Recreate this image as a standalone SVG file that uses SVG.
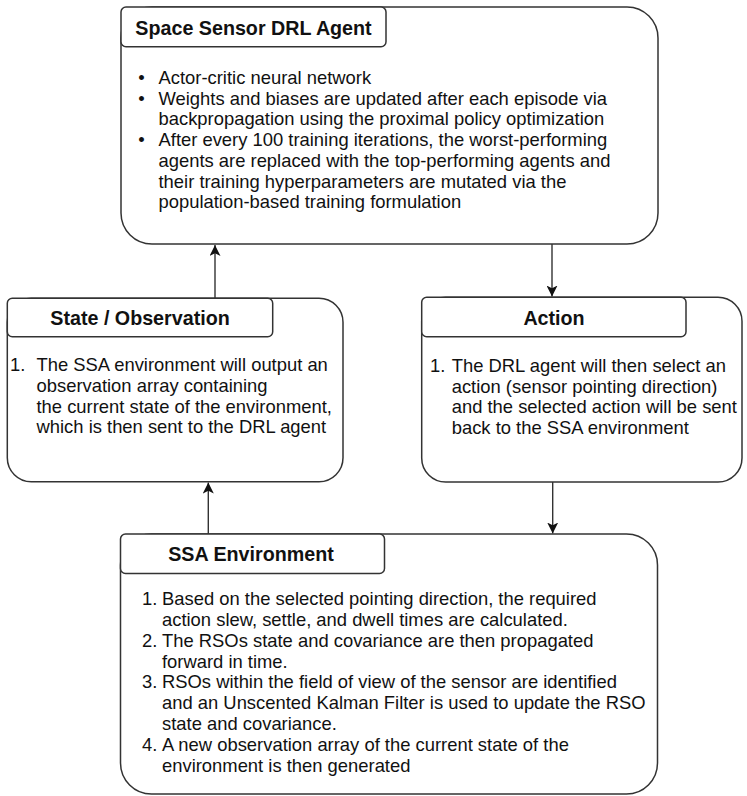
<svg xmlns="http://www.w3.org/2000/svg" width="747" height="796" viewBox="0 0 747 796">
<style>
.box{fill:#fff;stroke:#333;stroke-width:1.5}
.ttl{fill:#fff;stroke:#333;stroke-width:1.5}
.tt{font-family:"Liberation Sans",Arial,Helvetica,sans-serif;font-weight:bold;font-size:19.7px;fill:#111;text-anchor:middle}
.bd{font-family:"Liberation Sans",Arial,Helvetica,sans-serif;font-size:18.4px;fill:#111}
.bl{text-anchor:middle}
.cn{stroke:#333;stroke-width:1.4;fill:none;marker-end:url(#arr)}
</style>
<defs>
<marker id="arr" markerUnits="userSpaceOnUse" markerWidth="12" markerHeight="11" viewBox="0 0 12 11" refX="11" refY="5.5" orient="auto">
<path d="M0,0 L11,5.5 L0,11 L2.8,5.5 Z" fill="#111"/>
</marker>
</defs>
<rect width="747" height="796" fill="#fff"/>
<g id="connectors">
<line class="cn" x1="215" y1="298" x2="215" y2="245"/>
<line class="cn" x1="552" y1="244" x2="552" y2="296.5"/>
<line class="cn" x1="552.7" y1="482" x2="552.7" y2="533.5"/>
<line class="cn" x1="208.3" y1="534" x2="208.3" y2="482.5"/>
</g>
<g id="agent">
<rect class="box" x="121" y="7" width="537" height="237" rx="31"/>
<rect class="ttl" x="121" y="7" width="265" height="39.8" rx="5"/>
<text class="tt" x="253.5" y="34.5">Space Sensor DRL Agent</text>
<text class="bd bl" x="141.5" y="84">•</text>
<text class="bd bl" x="141.5" y="104.7">•</text>
<text class="bd bl" x="141.5" y="146.1">•</text>
<text class="bd" x="158.5" y="84">Actor-critic neural network</text>
<text class="bd" x="158.5" y="104.7">Weights and biases are updated after each episode via</text>
<text class="bd" x="158.5" y="125.4">backpropagation using the proximal policy optimization</text>
<text class="bd" x="158.5" y="146.1">After every 100 training iterations, the worst-performing</text>
<text class="bd" x="158.5" y="166.8">agents are replaced with the top-performing agents and</text>
<text class="bd" x="158.5" y="187.5">their training hyperparameters are mutated via the</text>
<text class="bd" x="158.5" y="208.2">population-based training formulation</text>
</g>
<g id="state">
<rect class="box" x="7.3" y="298.3" width="335.7" height="183.4" rx="24"/>
<rect class="ttl" x="7.3" y="298.3" width="265.4" height="38.4" rx="5"/>
<text class="tt" x="140" y="325">State / Observation</text>
<text class="bd" x="10" y="371">1.</text>
<text class="bd" x="36.5" y="371">The SSA environment will output an</text>
<text class="bd" x="36.5" y="391.8">observation array containing</text>
<text class="bd" x="36.5" y="412.6">the current state of the environment,</text>
<text class="bd" x="36.5" y="433.4">which is then sent to the DRL agent</text>
</g>
<g id="action">
<rect class="box" x="421.7" y="297.3" width="320.3" height="184.7" rx="24"/>
<rect class="ttl" x="421.7" y="297.3" width="264.3" height="39.4" rx="5"/>
<text class="tt" x="554" y="325">Action</text>
<text class="bd" x="430" y="371.5">1.</text>
<text class="bd" x="451.7" y="371.5">The DRL agent will then select an</text>
<text class="bd" x="451.7" y="392.5">action (sensor pointing direction)</text>
<text class="bd" x="451.7" y="413.4">and the selected action will be sent</text>
<text class="bd" x="451.7" y="434.3">back to the SSA environment</text>
</g>
<g id="ssa">
<rect class="box" x="120.5" y="534" width="537" height="260" rx="31"/>
<rect class="ttl" x="120.5" y="534" width="264" height="39.5" rx="5"/>
<text class="tt" x="251" y="561.2">SSA Environment</text>
<text class="bd" x="142" y="605.2">1.</text>
<text class="bd" x="162" y="605.2">Based on the selected pointing direction, the required</text>
<text class="bd" x="162" y="626">action slew, settle, and dwell times are calculated.</text>
<text class="bd" x="142" y="646.8">2.</text>
<text class="bd" x="162" y="646.8">The RSOs state and covariance are then propagated</text>
<text class="bd" x="162" y="667.6">forward in time.</text>
<text class="bd" x="142" y="688.4">3.</text>
<text class="bd" x="162" y="688.4">RSOs within the field of view of the sensor are identified</text>
<text class="bd" x="162" y="709.2">and an Unscented Kalman Filter is used to update the RSO</text>
<text class="bd" x="162" y="730">state and covariance.</text>
<text class="bd" x="142" y="750.8">4.</text>
<text class="bd" x="162" y="750.8">A new observation array of the current state of the</text>
<text class="bd" x="162" y="771.6">environment is then generated</text>
</g>
</svg>
